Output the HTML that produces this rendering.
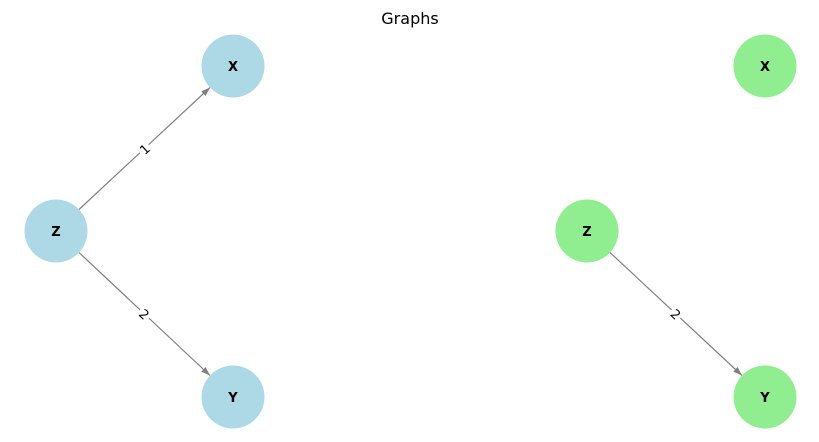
<!DOCTYPE html>
<html><head><meta charset="utf-8"><style>
html,body{margin:0;padding:0;background:#fff;width:819px;height:442px;overflow:hidden}
svg{display:block}
text{font-family:"DejaVu Sans","Liberation Sans",sans-serif}
</style></head><body>
<svg width="819" height="442" viewBox="0 0 819 442" xmlns="http://www.w3.org/2000/svg">
<defs>
<marker id="a" viewBox="0 0 10 10" refX="10" refY="5" markerWidth="10" markerHeight="9" markerUnits="userSpaceOnUse" orient="auto">
<path d="M0,1.5 L10,5 L0,8.5 Z" fill="#808080"/>
</marker>
</defs>
<text x="410" y="24" font-size="16" text-anchor="middle" fill="#000">Graphs</text>
<line x1="79" y1="209.5" x2="210" y2="87.5" stroke="#808080" stroke-width="1.2" marker-end="url(#a)"/>
<line x1="79" y1="252.5" x2="210" y2="375.5" stroke="#808080" stroke-width="1.2" marker-end="url(#a)"/>
<g transform="translate(144.5,149) rotate(-43)"><rect x="-6" y="-8" width="12" height="16" fill="#fff"/><text x="0" y="5" font-size="13" text-anchor="middle">1</text></g>
<g transform="translate(144.5,314) rotate(43)"><rect x="-6" y="-8" width="12" height="16" fill="#fff"/><text x="0" y="5" font-size="13" text-anchor="middle">2</text></g>
<circle cx="233" cy="66" r="31.5" fill="#add8e6"/>
<circle cx="56" cy="231" r="31.5" fill="#add8e6"/>
<circle cx="233" cy="397" r="31.5" fill="#add8e6"/>
<text x="233" y="71" font-size="13" font-weight="bold" text-anchor="middle">X</text>
<text x="56" y="236" font-size="13" font-weight="bold" text-anchor="middle">Z</text>
<text x="233" y="402" font-size="13" font-weight="bold" text-anchor="middle">Y</text>
<line x1="610" y1="252.5" x2="742" y2="375.5" stroke="#808080" stroke-width="1.2" marker-end="url(#a)"/>
<g transform="translate(676,314) rotate(43)"><rect x="-6" y="-8" width="12" height="16" fill="#fff"/><text x="0" y="5" font-size="13" text-anchor="middle">2</text></g>
<circle cx="765" cy="66" r="31.5" fill="#90ee90"/>
<circle cx="587" cy="231" r="31.5" fill="#90ee90"/>
<circle cx="765" cy="397" r="31.5" fill="#90ee90"/>
<text x="765" y="71" font-size="13" font-weight="bold" text-anchor="middle">X</text>
<text x="587" y="236" font-size="13" font-weight="bold" text-anchor="middle">Z</text>
<text x="765" y="402" font-size="13" font-weight="bold" text-anchor="middle">Y</text>
</svg>
</body></html>
